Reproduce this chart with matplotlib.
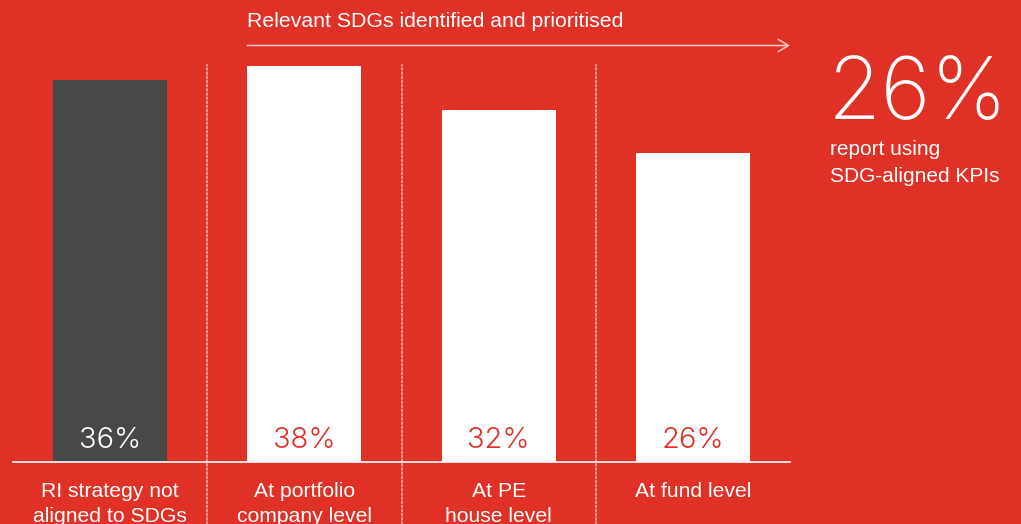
import matplotlib
matplotlib.use('Agg')
import matplotlib.pyplot as plt

# data
categories = ["RI strategy not\naligned to SDGs", "At portfolio\ncompany level",
              "At PE\nhouse level", "At fund level"]
values = [36, 38, 32, 26]
bar_colors = ["#474948", "#ffffff", "#ffffff", "#ffffff"]
label_colors = ["#ffffff", "#e03127", "#e03127", "#e03127"]
headline = "26%"
headline_note = "report using\nSDG-aligned KPIs"
arrow_text = "Relevant SDGs identified and prioritised"

RED = "#e03127"
SCALE = 7.29     # pixels per percentage point
FLOOR = -16.35   # bars grow from this level (chart is not zero based)
FONT = ["Liberation Sans", "DejaVu Sans"]
THIN = ["Inter", "DejaVu Sans"]

fig = plt.figure(figsize=(10.21, 5.24), dpi=100)
fig.patch.set_facecolor(RED)
ax = fig.add_axes([13 / 1021, 1 - 462 / 524, 777 / 1021, 462 / 524])
ax.set_facecolor(RED)
ax.set_xlim(-0.5, 3.5)
ax.set_ylim(FLOOR, FLOOR + 462 / SCALE)
ax.axis('off')

x = range(len(values))
heights = [v - FLOOR for v in values]
ax.bar(x, heights, bottom=FLOOR, width=0.588, color=bar_colors, zorder=2)

# baseline
ax.axhline(FLOOR, color="#ffffff", lw=1.2, zorder=3, clip_on=False)

# dotted separators
for sep in [0.5, 1.5, 2.5]:
    ax.plot([sep, sep], [FLOOR - 62 / SCALE, FLOOR + 397 / SCALE], color="#f0968e", lw=1.5,
            linestyle=(0, (0.8, 1.2)), dash_capstyle='round', clip_on=False, zorder=1)

# values inside bars
for i, v in enumerate(values):
    ax.text(i, FLOOR + 22 / SCALE, f"{v}%", ha='center', va='center', fontsize=21,
            color=label_colors[i], family=THIN, fontweight=300, zorder=4)

# category labels
for i, c in enumerate(categories):
    ax.text(i, FLOOR - 20 / SCALE, c, ha='center', va='top', fontsize=15.2,
            color="#ffffff", family=FONT, linespacing=1.42, clip_on=False)

# arrow across the prioritised bars
arrow_y = FLOOR + (462 - 45.5) / SCALE
ax.annotate("", xy=(3.5, arrow_y), xytext=(0.706, arrow_y),
            arrowprops=dict(arrowstyle="->,head_length=0.75,head_width=0.45",
                            color="#f6cbc6", lw=1.1, shrinkA=0, shrinkB=0),
            annotation_clip=False)
ax.text(0.706, arrow_y + 24 / SCALE, arrow_text, ha='left', va='center', fontsize=15.3,
        color="#ffffff", family=FONT, clip_on=False)

# headline number
fig.text(827 / 1021, 1 - 97 / 524, headline, ha='left', va='center', fontsize=62,
         color="#ffffff", family=THIN, fontweight=200)
fig.text(830 / 1021, 1 - 163 / 524, headline_note, ha='left', va='center', fontsize=15,
         color="#ffffff", family=FONT, linespacing=1.5)

fig.savefig("out.png", dpi=100, facecolor=RED)
